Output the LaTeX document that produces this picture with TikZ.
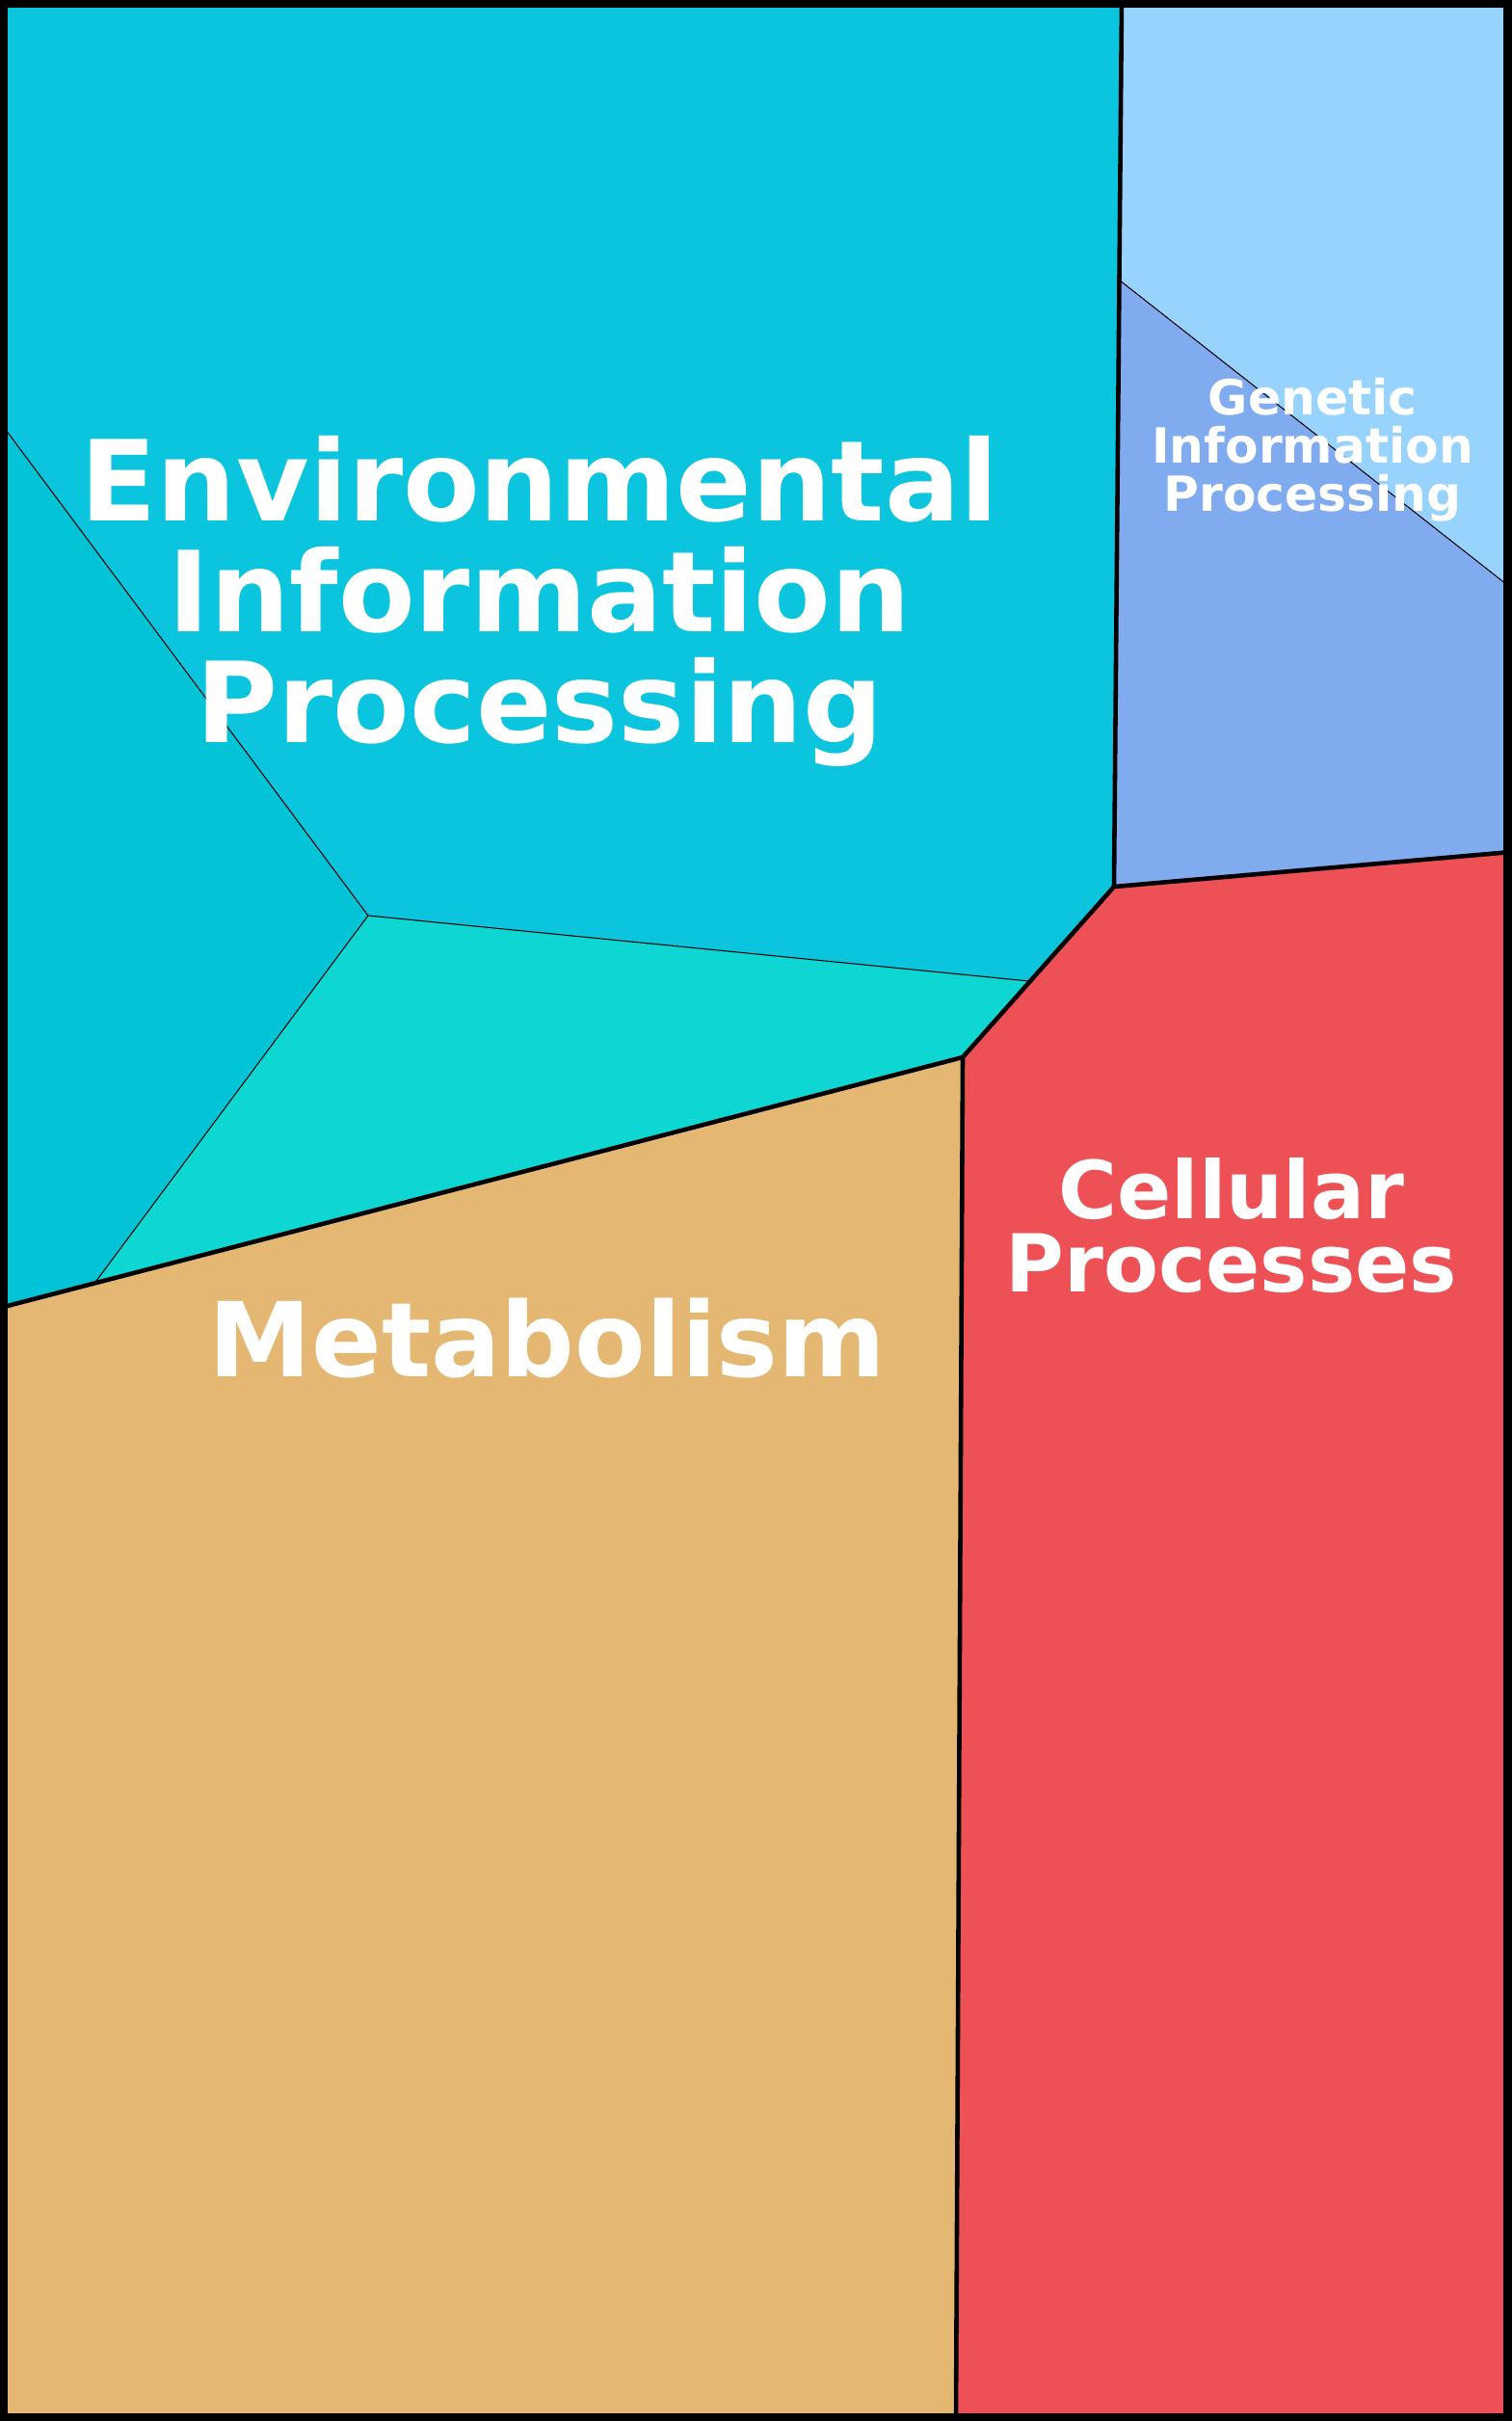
\documentclass[tikz,border=0pt]{standalone}
\usepackage{fontspec}
\setmainfont{DejaVu Sans}
\usepackage{tikz}
\usetikzlibrary{positioning,calc}

\definecolor{envblue}{HTML}{0BC4DD}
\definecolor{envleft}{HTML}{03C3D6}
\definecolor{envteal}{HTML}{0ED7D3}
\definecolor{metab}{HTML}{E4B872}
\definecolor{cellred}{HTML}{ED5055}
\definecolor{genlight}{HTML}{98D3FE}
\definecolor{gendark}{HTML}{80ABEF}

\tikzset{
  border/.style={line width=1.3pt,line join=miter},
  thinline/.style={line width=0.3pt},
  label/.style={text=white,font=\bfseries,align=center,anchor=base,inner sep=0pt}
}

\begin{document}
\begin{tikzpicture}[x=0.01cm,y=-0.01cm]

\useasboundingbox (0,0) rectangle (1568,2512);

\coordinate (tl) at (0,0);
\coordinate (tr) at (1568,0);
\coordinate (bl) at (0,2512);
\coordinate (br) at (1568,2512);

\coordinate (a) at (1164,0);
\coordinate (b) at (1162,291);
\coordinate (c) at (1156,920);
\coordinate (d) at (1568,884);
\coordinate (e) at (1568,610);
\coordinate (f) at (1068,1018);
\coordinate (g) at (999,1097);
\coordinate (h) at (992,2512);
\coordinate (i) at (382,950);
\coordinate (j) at (0,438);
\coordinate (k) at (97,1333);
\coordinate (l) at (0,1357);

\fill[envblue] (j)--(tl)--(a)--(b)--(c)--(f)--(i)--cycle;
\fill[envleft] (j)--(i)--(k)--(l)--cycle;
\fill[envteal] (i)--(f)--(g)--(k)--cycle;
\fill[metab] (l)--(g)--(h)--(bl)--cycle;
\fill[cellred] (g)--(c)--(d)--(br)--(h)--cycle;
\fill[genlight] (a)--(tr)--(e)--(b)--cycle;
\fill[gendark] (b)--(e)--(d)--(c)--cycle;

\draw[thinline] (b)--(e);
\draw[thinline] (j)--(i)--(f);
\draw[thinline] (i)--(k);

\draw[border] (a)--(c)--(d);
\draw[border] (c)--(g)--(h);
\draw[border] (g)--(l);
\draw[line width=4.5pt] (tl) rectangle (br);

\node[label,font=\bfseries\fontsize{33}{32.7}\selectfont] (env) at (560,770)
  {Environmental\\Information\\Processing};
\node[label,font=\bfseries\fontsize{14.3}{14.2}\selectfont] (gen) at (1362,530)
  {Genetic\\Information\\Processing};
\node[label,font=\bfseries\fontsize{23.6}{21.5}\selectfont] (cell) at (1278,1340)
  {Cellular\\Processes};
\node[label,font=\bfseries\fontsize{30.5}{30}\selectfont] (met) at (568,1428)
  {Metabolism};

\end{tikzpicture}
\end{document}
